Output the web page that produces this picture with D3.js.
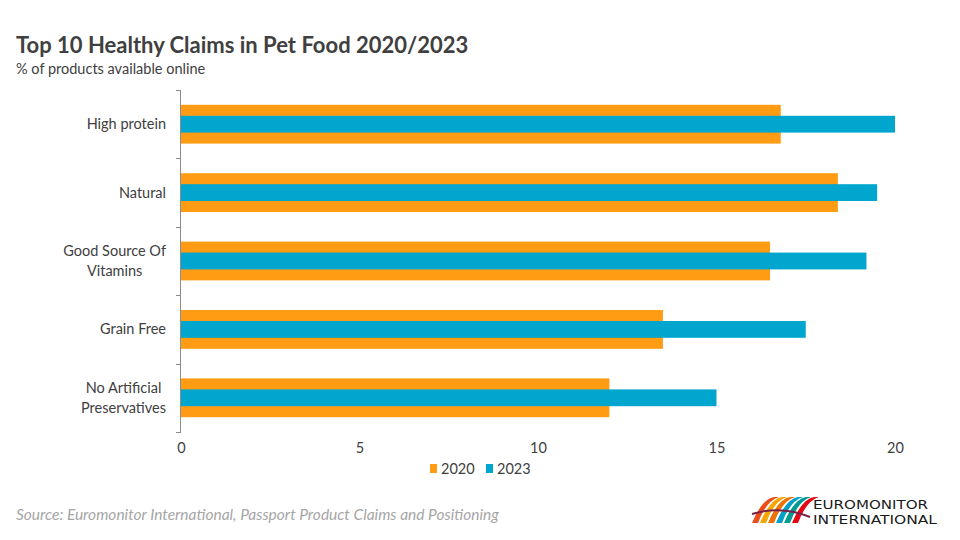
<!DOCTYPE html>
<html>
<head>
<meta charset="utf-8">
<script src="https://cdn.jsdelivr.net/npm/d3@7"></script>
<style>
  body { margin: 0; background: #fff; }
  svg { font-family: Lato, "Open Sans", sans-serif; }
</style>
</head>
<body>
<div id="chart"></div>
<script>
const width = 960
const height = 540
const margin = { top: 90, bottom: 108, right: 65, left: 181 }

const categories = ["High protein", "Natural", "Good Source Of\nVitamins", "Grain Free", "No Artificial\nPreservatives"]
const values2020 = [16.8, 18.4, 16.5, 13.5, 12.0]
const values2023 = [20.0, 19.5, 19.2, 17.5, 15.0]
const seriesNames = ["2020", "2023"]
const xTicks = [0, 5, 10, 15, 20]
const colors = ["#ff9c14", "#00a6ce"]

const data = categories.map((c, i) => ({ cat: c, v2020: values2020[i], v2023: values2023[i] }))

const svg = d3.select("div#chart").append("svg").attr("width", width).attr("height", height)

// titles
svg.append("text").attr("x", 16).attr("y", 53).attr("font-size", 22).attr("font-weight", "bold")
    .attr("fill", "#404040").text("Top 10 Healthy Claims in Pet Food 2020/2023")
svg.append("text").attr("x", 16).attr("y", 74).attr("font-size", 14.5)
    .attr("fill", "#404040").text("% of products available online")

const innerH = height - margin.top - margin.bottom

const x = d3.scaleLinear().domain([0, 20]).range([0, 714])
const y = d3.scaleBand().domain(categories).range([0, innerH])

const g = svg.append("g").attr("transform", `translate(${margin.left}, ${margin.top})`)

// bars: 2020 wide behind, 2023 narrow in front
const bw = y.bandwidth()
g.selectAll("rect.s2020").data(data).enter().append("rect")
    .attr("class", "s2020")
    .attr("x", 0)
    .attr("y", d => y(d.cat) + bw / 2 - 19.4)
    .attr("width", d => x(d.v2020))
    .attr("height", 38.8)
    .attr("fill", colors[0])
g.selectAll("rect.s2023").data(data).enter().append("rect")
    .attr("class", "s2023")
    .attr("x", 0)
    .attr("y", d => y(d.cat) + bw / 2 - 8.4)
    .attr("width", d => x(d.v2023))
    .attr("height", 16.8)
    .attr("fill", colors[1])

// y axis line + ticks at band edges
g.append("line").attr("x1", -0.5).attr("x2", -0.5).attr("y1", 0).attr("y2", innerH)
    .attr("stroke", "#8c8c8c").attr("stroke-width", 1)
const edges = categories.map(c => y(c)).concat([innerH])
g.selectAll("line.tick").data(edges).enter().append("line")
    .attr("class", "tick")
    .attr("x1", -5).attr("x2", 0)
    .attr("y1", d => Math.round(d) + 0.5).attr("y2", d => Math.round(d) + 0.5)
    .attr("stroke", "#8c8c8c")

// category labels (multi-line, centered lines, block right-aligned)
categories.forEach(c => {
    const lines = c.split("\n")
    const t = g.append("text").attr("font-size", 14.5).attr("fill", "#404040")
    const lh = 20
    const cy = y(c) + bw / 2
    lines.forEach((l, i) => {
        t.append("tspan").attr("y", cy + (i - (lines.length - 1) / 2) * lh + 5).text(l)
    })
    let maxW = 0
    t.selectAll("tspan").each(function () { maxW = Math.max(maxW, this.getComputedTextLength()) })
    t.attr("text-anchor", "middle")
    t.selectAll("tspan").attr("x", -15 - maxW / 2)
})

// x axis labels
const xAxis = d3.axisBottom(x).tickValues(xTicks).tickSize(0).tickPadding(11)
const xg = g.append("g").attr("transform", `translate(0, ${innerH})`).call(xAxis)
xg.select(".domain").remove()
xg.selectAll("text").attr("font-size", 14.5).attr("fill", "#404040").attr("font-family", "Lato, 'Open Sans', sans-serif")

// legend
const legend = svg.append("g").attr("transform", "translate(430, 470)")
const legX = [0, 56]
seriesNames.forEach((s, i) => {
    legend.append("rect").attr("x", legX[i]).attr("y", -6).attr("width", 7).attr("height", 9).attr("fill", colors[i])
    legend.append("text").attr("x", legX[i] + 11).attr("y", 3.5).attr("font-size", 14.5).attr("fill", "#404040").text(s)
})

// source
svg.append("text").attr("x", 16).attr("y", 520).attr("font-size", 15.5).attr("font-style", "italic")
    .attr("fill", "#a6a6a6").text("Source: Euromonitor International, Passport Product Claims and Positioning")

// logo
const logo = svg.append("g").attr("transform", "translate(752, 497)")
const stripeColors = ["#e94e1b", "#f7a600", "#ee7203", "#00a0c6", "#009a93", "#e30613"]
stripeColors.forEach((c, i) => {
    logo.append("path")
        .attr("d", `M${i * 8} 26 Q ${i * 8 + 10} 2 ${i * 8 + 22} 0 L ${i * 8 + 27} 0 Q ${i * 8 + 14} 4 ${i * 8 + 6} 26 Z`)
        .attr("fill", c)
})
logo.append("path").attr("d", "M0 17 Q 30 8 58 20").attr("stroke", "#7a2048").attr("stroke-width", 2).attr("fill", "none")
logo.append("text").attr("x", 61).attr("y", 11.5).attr("font-size", 13).attr("fill", "#1a1a1a")
    .attr("font-family", "'Liberation Sans Narrow', 'DejaVu Sans Condensed', sans-serif")
    .attr("textLength", 115).attr("lengthAdjust", "spacingAndGlyphs").text("EUROMONITOR")
logo.append("text").attr("x", 61).attr("y", 26.5).attr("font-size", 13).attr("fill", "#1a1a1a")
    .attr("font-family", "'Liberation Sans Narrow', 'DejaVu Sans Condensed', sans-serif")
    .attr("textLength", 124).attr("lengthAdjust", "spacingAndGlyphs").text("INTERNATIONAL")
</script>
</body>
</html>
